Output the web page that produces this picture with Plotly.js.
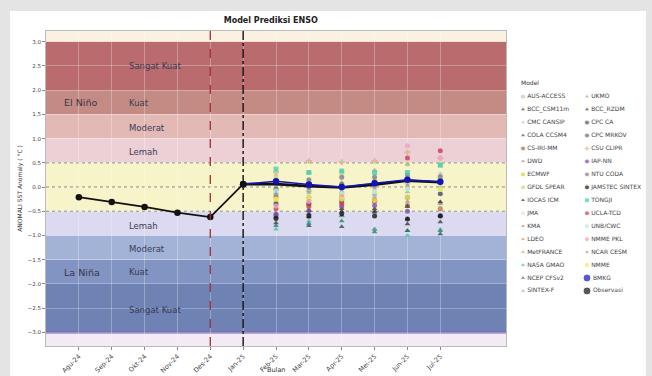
<!DOCTYPE html>
<html>
<head>
<meta charset="utf-8">
<script src="https://cdn.plot.ly/plotly-3.0.1.min.js"></script>
<style>
  html, body { margin:0; padding:0; background:#e4e4e4; width:652px; height:376px; overflow:hidden; }
  #chart { position:absolute; left:10px; top:11px; width:636px; height:365px; background:#ffffff; }
</style>
</head>
<body>
<div id="chart"></div>
<script>
// ---------- DATA ----------
const months = ["Agu-24","Sep-24","Okt-24","Nov-24","Des-24","Jan-25","Feb-25","Mar-25","Apr-25","Mei-25","Jun-25","Jul-25"];
const obsValues = [-0.21, -0.31, -0.41, -0.53, -0.62, 0.06];
const meanValues = [0.06, 0.06, 0.02, -0.01, 0.05, 0.13, 0.10];
const bmkgValues = [0.06, 0.12, 0.05, 0.00, 0.08, 0.15, 0.11];

const modelNames = ["AUS-ACCESS","BCC_CSM11m","CMC CANSIP","COLA CCSM4","CS-IRI-MM","DWD","ECMWF","GFDL SPEAR",
  "IOCAS ICM","JMA","KMA","LDEO","MetFRANCE","NASA GMAO","NCEP CFSv2","SINTEX-F",
  "UKMO","BCC_RZDM","CPC CA","CPC MRKOV","CSU CLIPR","IAP-NN","NTU CODA","JAMSTEC SINTEX",
  "TONGJI","UCLA-TCD","UNB/CWC","NMME PKL","NCAR CESM","NMME"];
const modelSymbols = ["circle","triangle-up","triangle-up","triangle-up","circle","triangle-up","circle","circle",
  "triangle-up","circle","triangle-up","triangle-up","triangle-up","triangle-up","triangle-up","triangle-up",
  "triangle-up","triangle-up","circle","circle","cross","circle","circle","circle",
  "square","circle","circle","circle","star","circle"];
const modelColors = ["#c4c4c4","#3c3c3c","#9ec6e6","#2f4f4f","#9c6b4e","#8c8c8c","#c9d33a","#b8e08c",
  "#363636","#e4e4e4","#9a9a9a","#e8964a","#c8a878","#48c2a8","#2a7a6e","#aaaaaa",
  "#a4a4a4","#3a3a3a","#505060","#6a6a6a","#d4b48c","#7050b0","#808080","#141414",
  "#46d0b8","#c83a62","#b8ecf0","#f0a0c0","#9a9a9a","#f2ea50"];

// forecast values per month (one entry per model, same order as modelNames)
const fcFeb = [0.05,-0.74,-0.14,-0.62,-0.20,0.00,-0.25,0.23,-0.56,0.10,-0.15,-0.31,0.15,-0.87,-0.80,-0.30,0.00,-0.60,-0.35,-0.05,0.30,-0.56,0.10,-0.65,0.37,-0.45,-0.08,-0.39,-0.14,-0.25];
const fcMar = [0.10,-0.62,-0.10,-0.80,-0.35,-0.05,-0.21,0.30,-0.49,0.13,-0.20,-0.30,0.30,-0.70,-0.75,-0.25,0.05,-0.55,-0.35,0.00,0.54,-0.49,0.15,-0.60,0.30,-0.40,-0.10,-0.30,-0.10,-0.20];
const fcApr = [0.00,-0.59,-0.02,-0.82,-0.25,-0.10,-0.15,0.25,-0.45,0.20,-0.22,-0.31,0.33,-0.60,-0.70,-0.20,0.10,-0.50,-0.30,0.05,0.51,-0.40,0.20,-0.55,0.33,-0.35,-0.10,-0.20,-0.05,-0.25];
const fcMei = [0.10,-0.52,0.05,-0.87,-0.28,-0.15,-0.10,0.30,-0.50,0.25,-0.25,-0.30,0.35,-0.87,-0.93,-0.20,0.15,-0.45,-0.28,0.10,0.54,-0.38,0.20,-0.60,0.30,-0.30,-0.10,0.00,0.00,-0.28];
const fcJun = [0.30,-0.66,-0.04,-0.90,-0.38,-0.21,0.00,0.47,-0.76,0.30,-0.30,-0.40,0.47,-1.00,-0.90,-0.10,0.20,-0.40,-0.21,0.15,0.72,-0.50,0.25,-0.66,0.30,0.60,-0.04,0.85,0.05,-0.21];
const fcJul = [0.27,-0.72,-0.14,-0.97,-0.45,-0.31,-0.04,0.47,-0.59,0.27,-0.35,-0.45,0.45,-0.87,-0.90,0.00,0.25,-0.31,-0.14,0.10,0.60,-0.59,0.20,-0.60,0.45,0.75,-0.05,0.60,0.10,-0.04];

// category bands
const bandLow   = [3.0, 2.0, 1.5, 1.0, 0.5, -0.5, -1.0, -1.5, -2.0, -3.5];
const bandHigh  = [3.5, 3.0, 2.0, 1.5, 1.0, 0.5, -0.5, -1.0, -1.5, -2.0];
const bandColor = ["#fbf1e2","#b96b6d","#c48b84","#e3b9b6","#ecd0d6","#f7f4c9","#dcdaf0","#a3b3d8","#8194c2","#6e82b3"];
const edgeLow = [-3.5], edgeHigh = [-3.0], edgeColor = ["#f3ebf3"];

const labelText = ["Sangat Kuat","Kuat","Moderat","Lemah","Lemah","Moderat","Kuat","Sangat Kuat"];
const labelY    = [2.5, 1.74, 1.22, 0.72, -0.8, -1.28, -1.76, -2.54];
const phaseText = ["El Niño","La Niña"];
const phaseY    = [1.74, -1.76];

// ---------- TRACES ----------
const fcMonths = months.slice(6);
const fcAll = [fcFeb, fcMar, fcApr, fcMei, fcJun, fcJul];
const traces = [];

traces.push({type:'scatter', mode:'lines+markers', showlegend:false,
  x: months.slice(0,6), y: obsValues, line:{color:'#111', width:1.8},
  marker:{color:'#111', size:6.5}, xaxis:'x', yaxis:'y'});

modelNames.forEach((name, i) => {
  traces.push({
    type:'scatter', mode:'markers', name:name, showlegend:false,
    x: fcMonths, y: fcAll.map(a => a[i]),
    marker:{symbol:modelSymbols[i], color:modelColors[i], size:5, opacity:0.8, line:{width:0}},
    xaxis:'x', yaxis:'y', hoverinfo:'skip'
  });
});

traces.push({type:'scatter', mode:'lines', showlegend:false,
  x: months.slice(5), y: meanValues, line:{color:'#111', width:2.6}, xaxis:'x', yaxis:'y'});
traces.push({type:'scatter', mode:'lines+markers', showlegend:false,
  x: months.slice(5), y: bmkgValues, line:{color:'#1414b4', width:1.5},
  marker:{color:'#1414b4', size:6.5}, xaxis:'x', yaxis:'y'});
traces.push({type:'scatter', mode:'markers', showlegend:false,
  x: months.slice(5,6), y: obsValues.slice(5), marker:{color:'#111', size:6.5}, xaxis:'x', yaxis:'y'});

// custom legend on its own axes
const legNames = modelNames.concat(["BMKG","Observasi"]);
const legSymbols = modelSymbols.concat(["circle","circle"]);
const legColors = modelColors.concat(["#1414b4","#111111"]);
const legSizes = legNames.map((n,i) => i >= 30 ? 8 : 5);
traces.push({
  type:'scatter', mode:'markers+text', showlegend:false, hoverinfo:'skip',
  x: legNames.map((n,i) => i < 16 ? 17 : 81),
  y: legNames.map((n,i) => i % 16),
  text: legNames, textposition:'middle right',
  textfont:{size:6, color:'#444444', family:'DejaVu Sans'},
  marker:{symbol:legSymbols, color:legColors, size:legSizes},
  xaxis:'x2', yaxis:'y2', cliponaxis:false
});

// ---------- SHAPES ----------
const shapes = [];
for (let i = 0; i < bandLow.length; i++) {
  shapes.push({type:'rect', layer:'below', xref:'x domain', x0:0, x1:1, yref:'y',
    y0:bandLow[i], y1:bandHigh[i], fillcolor:bandColor[i], line:{width:0}});
}
for (let i = 0; i < edgeLow.length; i++) {
  shapes.push({type:'rect', layer:'below', xref:'x domain', x0:0, x1:1, yref:'y',
    y0:edgeLow[i], y1:edgeHigh[i], fillcolor:edgeColor[i], line:{width:0}});
}
shapes.push({type:'line', layer:'below', xref:'x domain', x0:0, x1:1, yref:'y', y0:-3.0, y1:-3.0,
  line:{color:'#7a60b8', width:2}});
[0.5, 0.0, -0.5].forEach(v => shapes.push({type:'line', layer:'below', xref:'x domain', x0:0, x1:1,
  yref:'y', y0:v, y1:v, line:{color:'#555', width:0.8, dash:'dot'}}));
shapes.push({type:'line', layer:'above', xref:'x', x0:4, x1:4, yref:'y domain', y0:0, y1:1,
  line:{color:'#a03030', width:1.3, dash:'dash'}});
shapes.push({type:'line', layer:'above', xref:'x', x0:5, x1:5, yref:'y domain', y0:0, y1:1,
  line:{color:'#111', width:1.4, dash:'dashdot'}});

// ---------- ANNOTATIONS ----------
const annotations = [];
labelText.forEach((t,i) => annotations.push({xref:'x', yref:'y', x:1.46, y:labelY[i], text:t,
  xanchor:'left', yanchor:'middle', showarrow:false,
  font:{size:8.5, color:'#3b3b55', family:'DejaVu Sans'}}));
phaseText.forEach((t,i) => annotations.push({xref:'x', yref:'y', x:-0.5, y:phaseY[i], text:t,
  xanchor:'left', yanchor:'middle', showarrow:false,
  font:{size:9.5, color:'#3b3348', family:'DejaVu Sans'}}));
annotations.push({xref:'x2', yref:'y2', x:13, y:-1.1, text:'Model', xanchor:'left', yanchor:'middle',
  showarrow:false, font:{size:6, color:'#333', family:'DejaVu Sans'}});
// x-axis title at the bottom edge
annotations.push({xref:'x domain', yref:'paper', x:0.5, y:-0.094, text:'Bulan', xanchor:'center', yanchor:'bottom',
  showarrow:false, font:{size:6.5, color:'#333', family:'DejaVu Sans'}});

// ---------- LAYOUT ----------
const layout = {
  width:636, height:365,
  margin:{l:36, r:0, t:20, b:30, pad:0},
  paper_bgcolor:'#ffffff', plot_bgcolor:'#ffffff',
  font:{family:'DejaVu Sans', color:'#333'},
  title:{text:'<b>Model Prediksi ENSO</b>', font:{size:8, color:'#222'}, x:0.41, xanchor:'center', y:0.975, yanchor:'middle'},
  showlegend:false,
  xaxis:{domain:[0,0.7667], type:'category', categoryorder:'array', categoryarray:months, range:[-1,13],
    tickangle:-45, tickfont:{size:6.5, color:'#444'}, ticks:'outside', ticklen:3, tickcolor:'#888',
    showgrid:true, gridcolor:'rgba(255,255,255,0.28)', gridwidth:1, zeroline:false,
    showline:true, linecolor:'#bbb', mirror:true, automargin:false},
  yaxis:{range:[-3.28, 3.22], dtick:0.5, tick0:0, tickformat:'.1f',
    tickfont:{size:5.5, color:'#444'}, ticks:'outside', ticklen:3, tickcolor:'#888',
    showgrid:true, gridcolor:'rgba(255,255,255,0.28)', zeroline:false,
    showline:true, linecolor:'#bbb', mirror:true, automargin:false,
    title:{text:'ANOMALI SST Anomaly ( °C )', font:{size:6, color:'#333'}, standoff:4}},
  xaxis2:{domain:[0.7667,1], range:[0,140], visible:false, anchor:'y2', fixedrange:true},
  yaxis2:{domain:[0,1], range:[19.25,-5.07], visible:false, anchor:'x2', fixedrange:true},
  shapes:shapes, annotations:annotations
};

Plotly.newPlot('chart', traces, layout, {staticPlot:true, displayModeBar:false});
</script>
</body>
</html>
